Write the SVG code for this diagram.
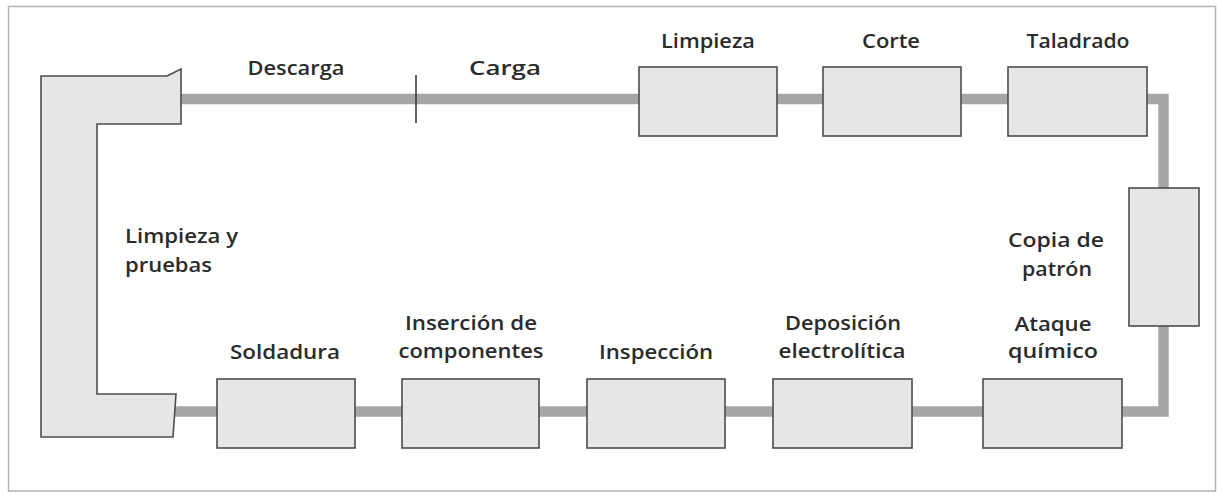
<svg xmlns="http://www.w3.org/2000/svg" width="1217" height="493" viewBox="0 0 1217 493">
<style>
.box{fill:#e6e6e6;stroke:#4d4d4d;stroke-width:1.6}
.lbl{font-family:"Open Sans","Liberation Sans",sans-serif;font-weight:600;font-size:20px;fill:#2b2b2b;text-anchor:middle}
.lft{text-anchor:start}
.conv{fill:none;stroke:#a6a6a6;stroke-width:10.5}
</style>
<rect x="8.5" y="6.5" width="1207" height="484.5" fill="#fff" stroke="#b3b3b3" stroke-width="1.5"/>
<g id="connectors">
<path class="conv" d="M181 99 H1163.5 V411.5 H175"/>
<line x1="416" y1="75" x2="416" y2="123" stroke="#333" stroke-width="1.5"/>
</g>
<g id="limpieza-pruebas">
<polygon class="box" points="41,76 167,76 181,69 181,124 97,124 97,394 176,394 173,437 41,437"/>
<text class="lbl lft" x="125" y="243" textLength="113" lengthAdjust="spacingAndGlyphs">Limpieza y</text>
<text class="lbl lft" x="125" y="272" textLength="87" lengthAdjust="spacingAndGlyphs">pruebas</text>
</g>
<g id="descarga"><text class="lbl" x="296" y="75" textLength="97" lengthAdjust="spacingAndGlyphs">Descarga</text></g>
<g id="carga"><text class="lbl" x="505" y="75" textLength="72" lengthAdjust="spacingAndGlyphs">Carga</text></g>
<g id="limpieza">
<rect class="box" x="639" y="67" width="138" height="69"/>
<text class="lbl" x="708" y="48" textLength="94" lengthAdjust="spacingAndGlyphs">Limpieza</text>
</g>
<g id="corte">
<rect class="box" x="823" y="67" width="138" height="69"/>
<text class="lbl" x="891" y="48" textLength="58" lengthAdjust="spacingAndGlyphs">Corte</text>
</g>
<g id="taladrado">
<rect class="box" x="1008" y="67" width="139" height="69"/>
<text class="lbl" x="1078" y="48" textLength="103" lengthAdjust="spacingAndGlyphs">Taladrado</text>
</g>
<g id="copia-patron">
<rect class="box" x="1129" y="188" width="70" height="138"/>
<text class="lbl" x="1056" y="247" textLength="96" lengthAdjust="spacingAndGlyphs">Copia de</text>
<text class="lbl" x="1057" y="276" textLength="70" lengthAdjust="spacingAndGlyphs">patrón</text>
</g>
<g id="ataque-quimico">
<rect class="box" x="983" y="379" width="139" height="69"/>
<text class="lbl" x="1053" y="331" textLength="77" lengthAdjust="spacingAndGlyphs">Ataque</text>
<text class="lbl" x="1053" y="358" textLength="90" lengthAdjust="spacingAndGlyphs">químico</text>
</g>
<g id="deposicion">
<rect class="box" x="773" y="379" width="139" height="69"/>
<text class="lbl" x="843" y="330" textLength="116" lengthAdjust="spacingAndGlyphs">Deposición</text>
<text class="lbl" x="842" y="358" textLength="127" lengthAdjust="spacingAndGlyphs">electrolítica</text>
</g>
<g id="inspeccion">
<rect class="box" x="587" y="379" width="138" height="69"/>
<text class="lbl" x="656" y="359" textLength="114" lengthAdjust="spacingAndGlyphs">Inspección</text>
</g>
<g id="insercion">
<rect class="box" x="402" y="379" width="137" height="69"/>
<text class="lbl" x="471" y="330" textLength="132" lengthAdjust="spacingAndGlyphs">Inserción de</text>
<text class="lbl" x="471" y="358" textLength="145" lengthAdjust="spacingAndGlyphs">componentes</text>
</g>
<g id="soldadura">
<rect class="box" x="217" y="379" width="138" height="69"/>
<text class="lbl" x="285" y="359" textLength="110" lengthAdjust="spacingAndGlyphs">Soldadura</text>
</g>
</svg>
